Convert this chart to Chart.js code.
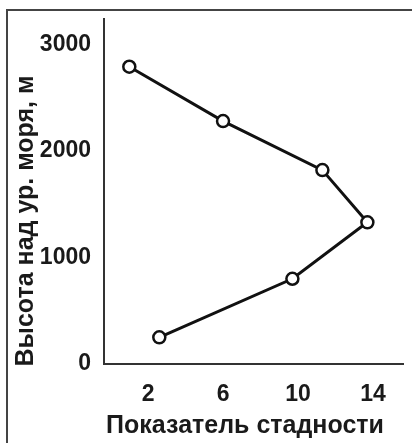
<!DOCTYPE html>
<html>
<head>
<meta charset="utf-8">
<script src="https://cdn.jsdelivr.net/npm/chart.js@4"></script>
<style>
  html, body { margin: 0; padding: 0; background: #fff; }
  #wrap { width: 412px; height: 443px; }
</style>
</head>
<body>
<div id="wrap"><canvas id="grafico" width="412" height="443"></canvas></div>
<script>
// показатель стадности (x) и высота (y)
const stadnost = [1.0, 6.0, 11.3, 13.7, 9.7, 2.6];
const vysota = [2790, 2280, 1820, 1330, 800, 250];
const xTicks = [2, 6, 10, 14];
const yTicks = [0, 1000, 2000, 3000];
const xTitle = 'Показатель стадности';
const yTitle = 'Высота над ур. моря, м';

const fuente = 'Liberation Sans, Arial, sans-serif';

// рамка сверху и слева + подписи осей
const decor = {
  id: 'decor',
  afterDraw(chart) {
    const ctx = chart.ctx;
    ctx.save();
    ctx.strokeStyle = '#444';
    ctx.lineWidth = 2;
    ctx.beginPath();
    ctx.moveTo(7, 443);
    ctx.lineTo(7, 10);
    ctx.lineTo(412, 10);
    ctx.stroke();

    ctx.fillStyle = '#1a1a1a';
    ctx.font = 'bold 25px ' + fuente;
    ctx.textAlign = 'center';
    ctx.textBaseline = 'middle';
    ctx.fillText(xTitle, 245, 426);

    ctx.translate(26, 221);
    ctx.rotate(-Math.PI / 2);
    ctx.fillText(yTitle, 0, 0);
    ctx.restore();
  }
};

const ctx = document.getElementById('grafico').getContext('2d');
new Chart(ctx, {
  type: 'scatter',
  data: {
    datasets: [{
      data: stadnost.map((x, i) => ({ x, y: vysota[i] })),
      showLine: true,
      borderColor: '#111',
      borderWidth: 3,
      pointRadius: 6,
      pointHoverRadius: 6,
      pointBackgroundColor: '#fff',
      pointBorderColor: '#111',
      pointBorderWidth: 2.5
    }]
  },
  options: {
    responsive: false,
    animation: false,
    layout: { padding: { top: 15, right: 9, left: 0, bottom: 0 } },
    plugins: { legend: { display: false }, tooltip: { enabled: false } },
    scales: {
      x: {
        type: 'linear',
        min: -0.35,
        max: 15.6,
        afterBuildTicks: axis => { axis.ticks = xTicks.map(v => ({ value: v })); },
        afterFit: axis => { axis.height = 79; },
        grid: { display: false },
        border: { color: '#333', width: 2 },
        ticks: {
          color: '#1a1a1a',
          padding: 9,
          callback: v => String(v),
          font: { family: fuente, size: 23, weight: 'bold' }
        }
      },
      y: {
        type: 'linear',
        min: 0,
        max: 3240,
        afterBuildTicks: axis => { axis.ticks = yTicks.map(v => ({ value: v })); },
        afterFit: axis => { axis.width = 104; },
        grid: { display: false },
        border: { color: '#333', width: 2 },
        ticks: {
          color: '#1a1a1a',
          padding: 5,
          callback: v => String(v),
          font: { family: fuente, size: 23, weight: 'bold' }
        }
      }
    }
  },
  plugins: [decor]
});
</script>
</body>
</html>
